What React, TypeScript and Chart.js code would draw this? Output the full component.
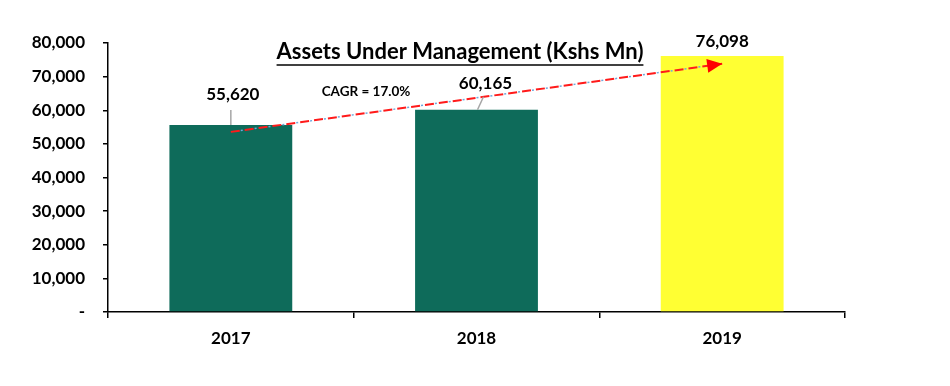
import React, { useEffect, useRef } from "react";
import { Chart, registerables } from "chart.js";

Chart.register(...registerables);

const categories = ["2017", "2018", "2019"];
const aumValues = [55620, 60165, 76098];
const valueLabels = ["55,620", "60,165", "76,098"];
const trendValues = [53570, null, 73810];
const yTickLabels = ["-", "10,000", "20,000", "30,000", "40,000", "50,000", "60,000", "70,000", "80,000"];
const titleText = "Assets Under Management (Kshs Mn)";
const cagrText = "CAGR = 17.0%";

const FONT = "Lato, 'Open Sans', sans-serif";
const labelOffsets = [
  { dx: 2, dy: -30, lx1: 0, ly1: -15, lx2: 0, ly2: 0 },
  { dx: 9, dy: -26, lx1: 7, ly1: -13, lx2: 1, ly2: 0 },
  { dx: 0, dy: -15, lx1: 0, ly1: 0, lx2: 0, ly2: 0 },
];

const overlayPlugin = {
  id: "overlay",
  afterDatasetsDraw(chart: any) {
    const ctx = chart.ctx;
    const barMeta = chart.getDatasetMeta(0);
    ctx.save();
    barMeta.data.forEach((bar: any, i: number) => {
      const o = labelOffsets[i];
      if (o.ly1 !== 0) {
        ctx.strokeStyle = "#a6a6a6";
        ctx.lineWidth = 1.5;
        ctx.beginPath();
        ctx.moveTo(bar.x + o.lx1, bar.y + o.ly1);
        ctx.lineTo(bar.x + o.lx2, bar.y + o.ly2);
        ctx.stroke();
      }
      ctx.fillStyle = "#000";
      ctx.font = `bold 17px ${FONT}`;
      ctx.textAlign = "center";
      ctx.textBaseline = "middle";
      ctx.fillText(valueLabels[i], bar.x + o.dx, bar.y + o.dy);
    });
    const lineMeta = chart.getDatasetMeta(1);
    const pts = lineMeta.data.filter((p: any, i: number) => trendValues[i] !== null);
    if (pts.length >= 2) {
      const a = pts[0];
      const b = pts[pts.length - 1];
      const ang = Math.atan2(b.y - a.y, b.x - a.x);
      const len = 15;
      const half = 7;
      ctx.fillStyle = "#ff0000";
      ctx.beginPath();
      ctx.moveTo(b.x, b.y);
      ctx.lineTo(b.x - len * Math.cos(ang) + half * Math.sin(ang), b.y - len * Math.sin(ang) - half * Math.cos(ang));
      ctx.lineTo(b.x - len * Math.cos(ang) - half * Math.sin(ang), b.y - len * Math.sin(ang) + half * Math.cos(ang));
      ctx.closePath();
      ctx.fill();
    }
    ctx.fillStyle = "#000";
    ctx.font = `bold 13.5px ${FONT}`;
    ctx.textAlign = "center";
    ctx.textBaseline = "middle";
    ctx.fillText(cagrText, 366, 92);
    ctx.font = `bold 22px ${FONT}`;
    const w = ctx.measureText(titleText).width;
    const tx = 460;
    const ty = 52;
    ctx.fillText(titleText, tx, ty);
    ctx.strokeStyle = "#000";
    ctx.lineWidth = 1.5;
    ctx.beginPath();
    ctx.moveTo(tx - w / 2, ty + 13);
    ctx.lineTo(tx + w / 2, ty + 13);
    ctx.stroke();
    ctx.restore();
  },
};

export default function App() {
  const ref = useRef<HTMLCanvasElement>(null);
  useEffect(() => {
    if (!ref.current) return;
    const chart = new Chart(ref.current, {
      type: "bar",
      data: {
        labels: categories,
        datasets: [
          {
            type: "bar",
            data: aumValues,
            backgroundColor: ["#0e6b5a", "#0e6b5a", "#ffff33"],
            categoryPercentage: 1,
            barPercentage: 0.5,
            order: 2,
          },
          {
            type: "line",
            data: trendValues as any,
            borderColor: "#ff1a1a",
            borderWidth: 2,
            borderDash: [9, 5],
            pointRadius: 0,
            spanGaps: true,
            order: 1,
          },
          {
            type: "line",
            data: trendValues as any,
            borderColor: "#6fa8dc",
            borderWidth: 1.5,
            borderDash: [2, 12],
            borderDashOffset: -10,
            pointRadius: 0,
            spanGaps: true,
            order: 1,
          },
        ],
      },
      options: {
        animation: false,
        responsive: true,
        maintainAspectRatio: false,
        layout: { padding: { left: 0, right: 105, top: 43, bottom: 0 } },
        plugins: { legend: { display: false }, tooltip: { enabled: false }, title: { display: false } },
        scales: {
          x: {
            offset: true,
            grid: { drawOnChartArea: false, drawTicks: true, tickLength: 6, color: "#000", offset: true, lineWidth: 1.5 },
            border: { color: "#000", width: 1.5 },
            ticks: { color: "#000", font: { family: FONT, weight: "bold", size: 17 }, padding: 10 },
            afterFit: (s: any) => { s.height = 74; },
          },
          y: {
            min: 0,
            max: 80000,
            grid: { drawOnChartArea: false, drawTicks: true, tickLength: 5, color: "#000", lineWidth: 1.5 },
            border: { color: "#000", width: 1.5 },
            ticks: {
              stepSize: 10000,
              color: "#000",
              padding: 18,
              font: { family: FONT, weight: "bold", size: 17 },
              callback: (_v: any, i: number) => yTickLabels[i],
            },
            afterFit: (s: any) => { s.width = 108; },
          },
        },
      },
      plugins: [overlayPlugin],
    });
    return () => chart.destroy();
  }, []);
  return (
    <div style={{ position: "fixed", left: 0, top: 0, width: 950, height: 386, background: "#fff" }}>
      <canvas ref={ref} />
    </div>
  );
}
